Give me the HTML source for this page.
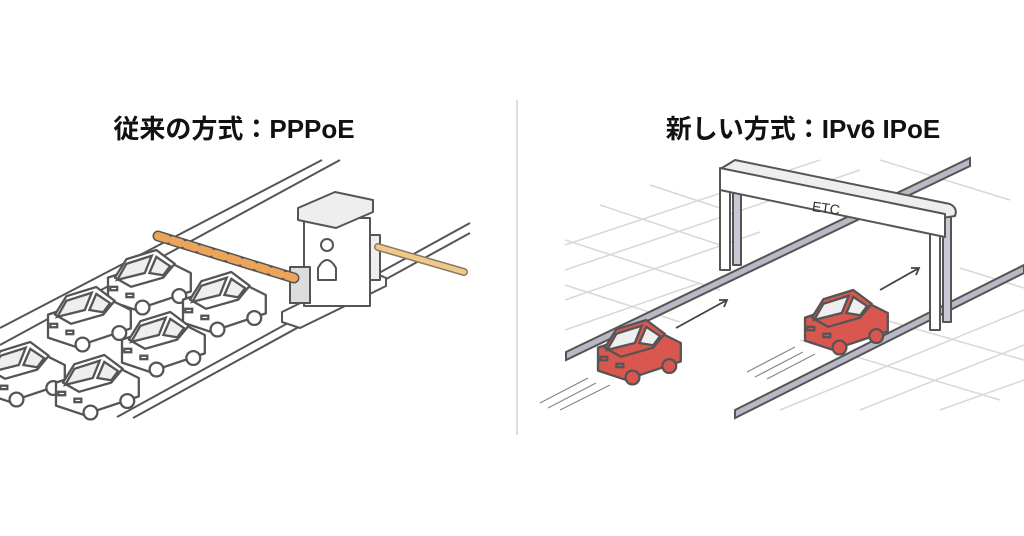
<!DOCTYPE html>
<html><head><meta charset="utf-8"><style>
html,body{margin:0;padding:0;background:#fff;}
svg{display:block}
</style></head><body>
<svg width="1024" height="536" viewBox="0 0 1024 536" xmlns="http://www.w3.org/2000/svg">
<defs>
<g id="car">
  <path d="M0 24 L48 8 L72 20 L72 36 L24 52 L0 44 Z" stroke-linejoin="round"/>
  <path d="M6 24 L16 8 L42 0 L58 12 L48 24 L20 32 Z" stroke-linejoin="round"/>
  <path d="M8 26 L16 12 L38 5 L32 20 Z" fill="#eee"/>
  <path d="M36 20 L42 6 L54 14 L48 22 Z" fill="#eee"/>
  <circle cx="30" cy="50" r="6"/>
  <circle cx="62" cy="40" r="6"/>
  <rect x="2" y="32" width="6" height="3"/>
  <rect x="16" y="38" width="6" height="3"/>
</g>
</defs>

<text x="234" y="138" text-anchor="middle" font-family="'Liberation Sans','Noto Sans CJK JP',sans-serif" font-weight="bold" font-size="26" fill="#111">従来の方式：PPPoE</text>
<text x="803" y="138" text-anchor="middle" font-family="'Liberation Sans','Noto Sans CJK JP',sans-serif" font-weight="bold" font-size="26" fill="#111">新しい方式：IPv6 IPoE</text>

<line x1="517" y1="100" x2="517" y2="435" stroke="#ddd" stroke-width="2"/>

<!-- left road -->
<g stroke="#555" stroke-width="2" fill="none">
  <line x1="0" y1="328" x2="322" y2="160"/>
  <line x1="0" y1="345" x2="340" y2="160"/>
  <line x1="117" y1="417" x2="470" y2="223"/>
  <line x1="133" y1="418" x2="470" y2="233"/>
</g>

<!-- cars left -->
<g fill="#fff" stroke="#555" stroke-width="2">
  <use href="#car" transform="translate(108,250) scale(1.15)"/>
  <use href="#car" transform="translate(183,272) scale(1.15)"/>
  <use href="#car" transform="translate(48,287) scale(1.15)"/>
  <use href="#car" transform="translate(122,312) scale(1.15)"/>
  <use href="#car" transform="translate(-18,342) scale(1.15)"/>
  <use href="#car" transform="translate(56,355) scale(1.15)"/>
</g>

<!-- booth -->
<g stroke="#555" stroke-width="2" stroke-linejoin="round">
  <path d="M282 312 L368 270 L386 278 L386 286 L300 328 L282 322 Z" fill="#fff"/>
  <rect x="304" y="218" width="66" height="88" fill="#fff"/>
  <rect x="370" y="235" width="10" height="45" fill="#eee"/>
  <path d="M298 208 L335 192 L373 200 L373 212 L336 228 L298 220 Z" fill="#eee"/>
  <circle cx="327" cy="245" r="6" fill="#fff"/>
  <path d="M318 268 Q327 252 336 268 L336 280 L318 280 Z" fill="#fff"/>
  <rect x="290" y="267" width="20" height="36" fill="#ddd"/>
</g>
<line x1="158" y1="236" x2="294" y2="278" stroke="#555" stroke-width="11" stroke-linecap="round"/>
<line x1="158" y1="236" x2="294" y2="278" stroke="#eba55a" stroke-width="8" stroke-linecap="round" stroke-dasharray="9 6"/>
<line x1="158" y1="236" x2="294" y2="278" stroke="#eba55a" stroke-width="3" stroke-linecap="round"/>
<line x1="378" y1="247" x2="464" y2="272" stroke="#8a7a60" stroke-width="8" stroke-linecap="round"/>
<line x1="378" y1="247" x2="464" y2="272" stroke="#efc98a" stroke-width="5" stroke-linecap="round"/>

<!-- right grid -->
<g stroke="#d8d8d8" stroke-width="1.5" fill="none">
  <line x1="565" y1="245" x2="820" y2="160"/>
  <line x1="565" y1="270" x2="860" y2="170"/>
  <line x1="565" y1="300" x2="760" y2="232"/>
  <line x1="565" y1="330" x2="700" y2="283"/>
  <line x1="780" y1="410" x2="1024" y2="310"/>
  <line x1="860" y1="410" x2="1024" y2="345"/>
  <line x1="940" y1="410" x2="1024" y2="380"/>
  <line x1="565" y1="240" x2="720" y2="290"/>
  <line x1="600" y1="205" x2="720" y2="245"/>
  <line x1="650" y1="185" x2="720" y2="208"/>
  <line x1="565" y1="285" x2="680" y2="322"/>
  <line x1="800" y1="340" x2="1000" y2="400"/>
  <line x1="850" y1="310" x2="1024" y2="360"/>
  <line x1="960" y1="268" x2="1024" y2="288"/>
  <line x1="880" y1="160" x2="1010" y2="200"/>
</g>
<!-- right road -->
<g stroke="#555" stroke-width="2" fill="#b8b8c6">
  <path d="M566 352 L970 158 L970 166 L566 360 Z"/>
  <path d="M735 410 L1024 265 L1024 273 L735 418 Z"/>
</g>
<!-- gantry -->
<g stroke="#555" stroke-width="2" fill="#fff" stroke-linejoin="round">
  <rect x="720" y="180" width="10" height="90" />
  <rect x="733" y="190" width="8" height="75" fill="#c8c8d6"/>
  <rect x="930" y="225" width="10" height="105"/>
  <rect x="943" y="215" width="8" height="107" fill="#c8c8d6"/>
  <path d="M722 168 L735 160 L950 204 Q958 208 955 216 L942 218 L720 175 Z" fill="#eee"/>
  <path d="M720 168 L945 214 L945 237 L720 190 Z"/>
</g>
<text x="826" y="213" text-anchor="middle" font-family="'Liberation Sans',sans-serif" font-size="14" fill="#333" transform="rotate(8 826 208)">ETC</text>

<!-- red cars -->
<g fill="#d9574f" stroke="#555" stroke-width="2">
  <use href="#car" transform="translate(598,320) scale(1.15)"/>
  <use href="#car" transform="translate(805,290) scale(1.15)"/>
</g>
<!-- arrows -->
<g stroke="#444" stroke-width="1.8" fill="none">
  <line x1="676" y1="328" x2="727" y2="300"/>
  <path d="M719 300 L727 300 L724 307"/>
  <line x1="880" y1="290" x2="919" y2="268"/>
  <path d="M911 268 L919 268 L916 275"/>
</g>
<g stroke="#888" stroke-width="1.2">
  <line x1="540" y1="403" x2="588" y2="378"/>
  <line x1="548" y1="408" x2="596" y2="383"/>
  <line x1="560" y1="410" x2="610" y2="385"/>
  <line x1="747" y1="372" x2="795" y2="347"/>
  <line x1="755" y1="377" x2="803" y2="352"/>
  <line x1="767" y1="379" x2="815" y2="354"/>
</g>
</svg>
</body></html>
